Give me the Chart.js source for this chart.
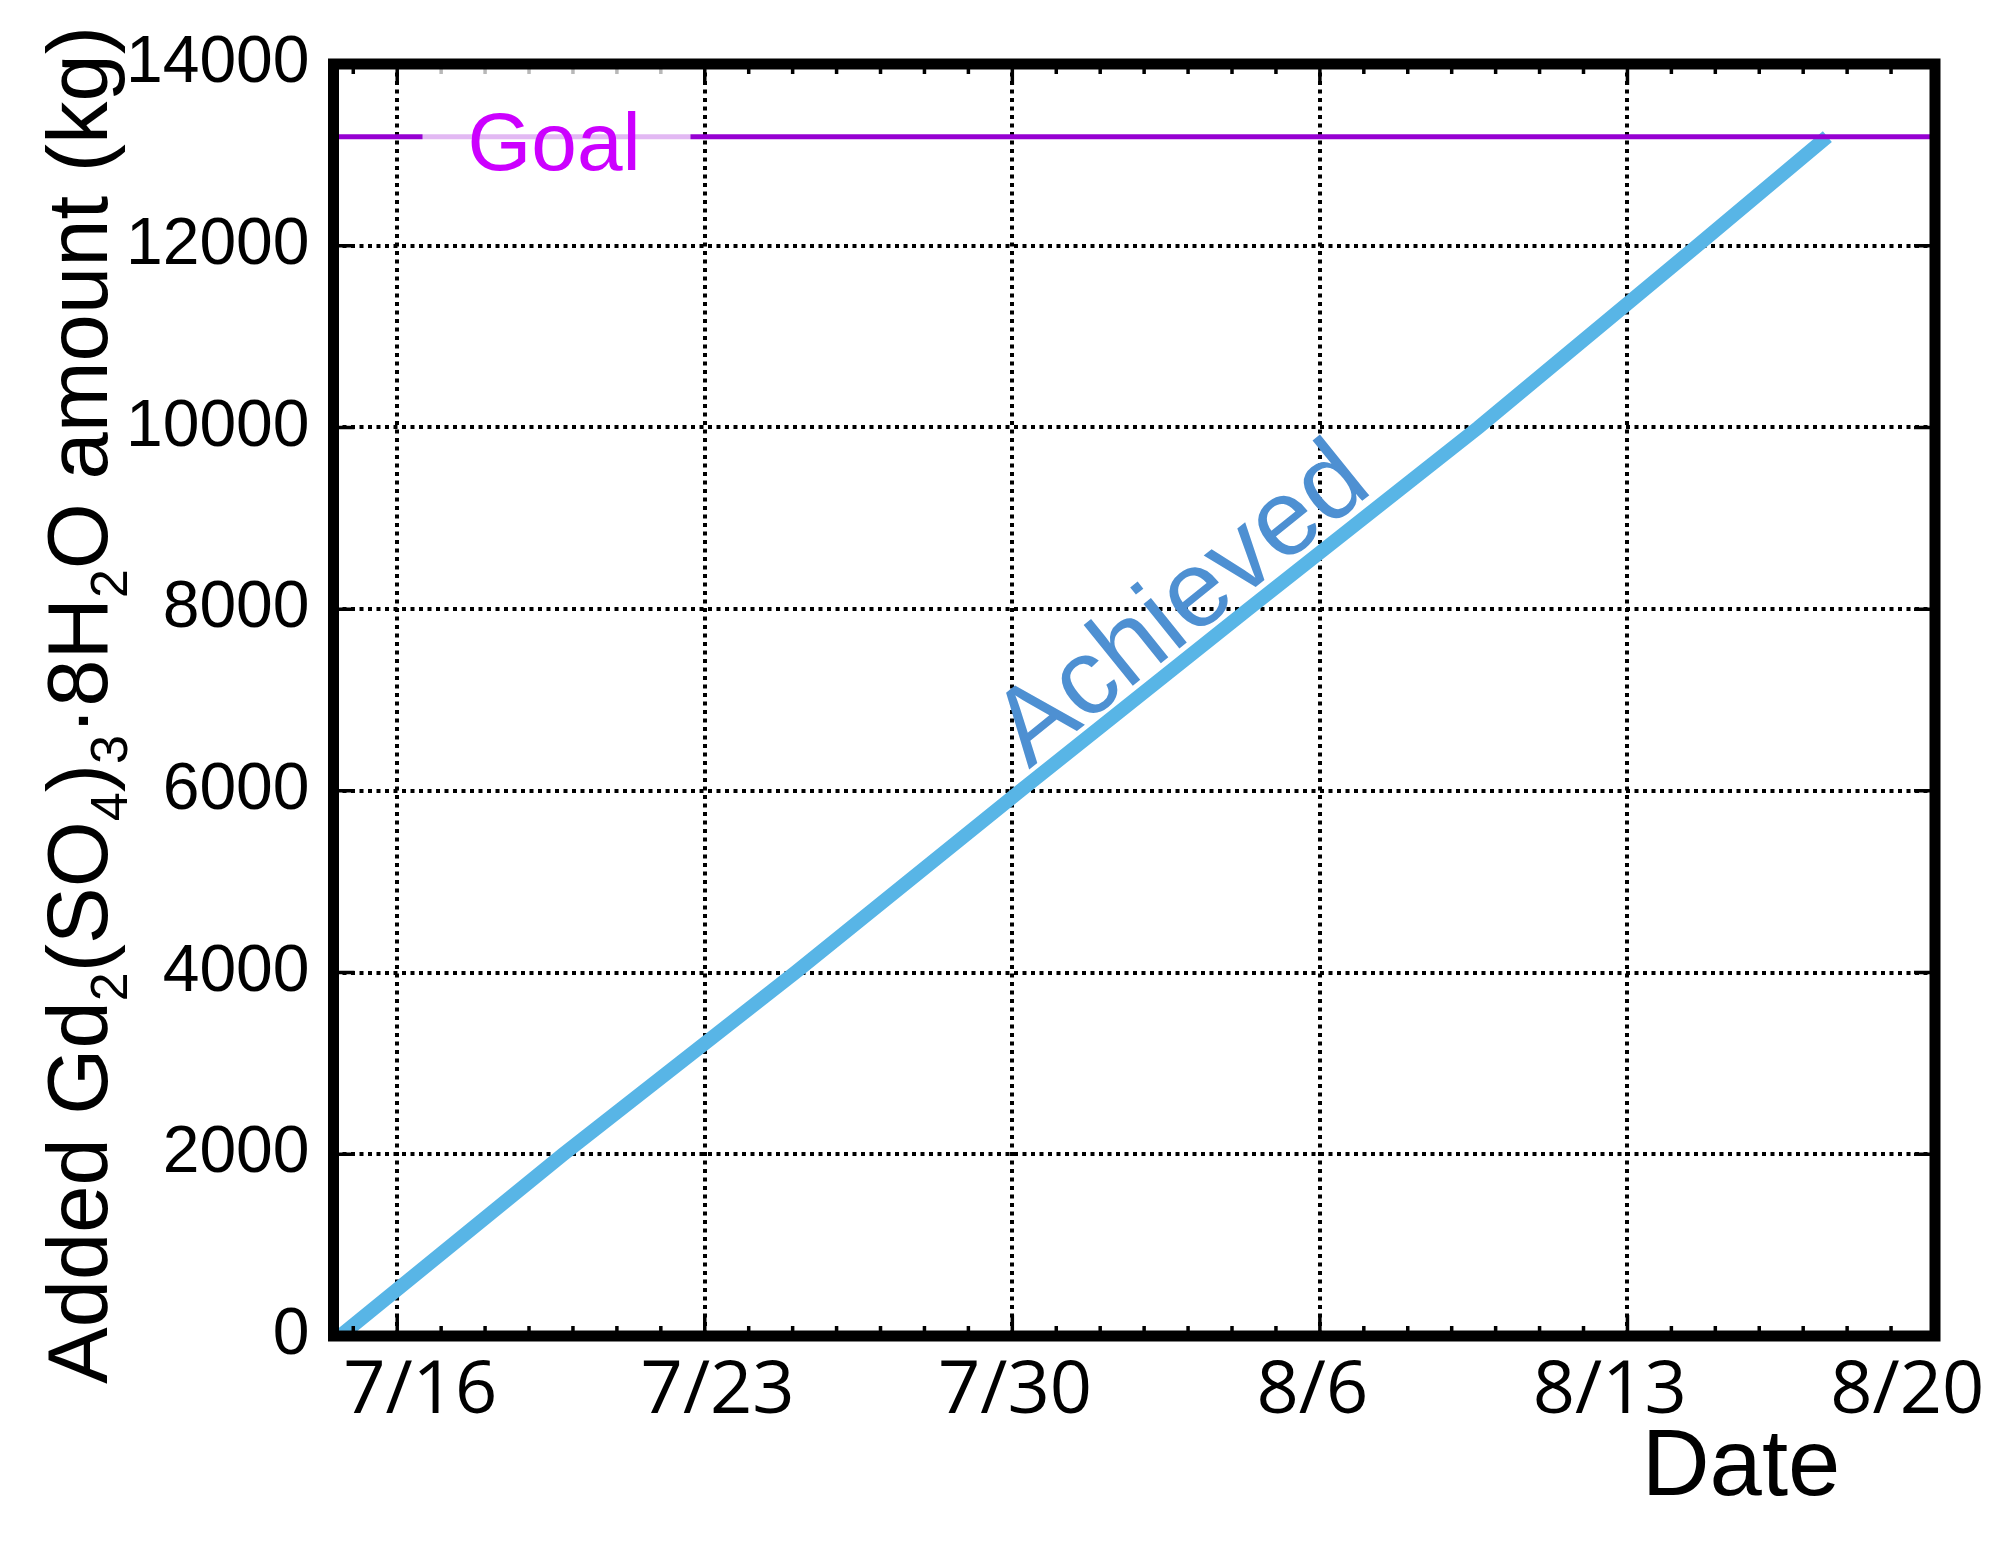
<!DOCTYPE html>
<html>
<head>
<meta charset="utf-8">
<script src="https://cdn.jsdelivr.net/npm/chart.js@4.4.1/dist/chart.umd.min.js"></script>
<style>
  html, body { margin: 0; padding: 0; background: #fff; }
  #wrap { width: 2000px; height: 1544px; position: relative; }
</style>
</head>
<body>
<div id="wrap"><canvas id="grafico"></canvas></div>
<script>
// --- data (x = day of July, 32 = Aug 1) ---
var achievedDays = [14.70, 19.78, 25.06, 30.18, 35.37, 40.61, 45.59, 48.55];
var achievedKg   = [0, 2000, 4000, 6000, 8000, 10000, 12000, 13200];
var goalKg = 13200;

var xTickDays   = [16, 23, 30, 37, 44, 51];
var xTickLabels = ['7/16', '7/23', '7/30', '8/6', '8/13', '8/20'];
var yTicks      = [0, 2000, 4000, 6000, 8000, 10000, 12000, 14000];
var xMin = 14.55, xMax = 51;

var SANS = '"Liberation Sans", Arial, sans-serif';
var C_ACH  = '#58B5E6';
var C_ACHT = '#4E90D2';
var C_GOAL = '#9600D2';
var C_GOALT = '#CC00FF';

// one minor tick per day
var xDayTicks = [];
for (var d = Math.ceil(xMin); d <= xMax; d++) xDayTicks.push(d);

var decor = {
  id: 'decor',
  afterDatasetsDraw: function (chart) {
    var ctx = chart.ctx, a = chart.chartArea;
    var xs = chart.scales.x, ys = chart.scales.y;
    ctx.save();

    // inward tick marks on all four sides
    ctx.strokeStyle = '#000';
    ctx.lineWidth = 3.5;
    ctx.beginPath();
    xs.ticks.forEach(function (t) {
      var px = xs.getPixelForValue(t.value);
      var len = xTickDays.indexOf(t.value) >= 0 ? 21 : 10;
      ctx.moveTo(px, a.bottom); ctx.lineTo(px, a.bottom - len);
      ctx.moveTo(px, a.top); ctx.lineTo(px, a.top + len);
    });
    ys.ticks.forEach(function (t) {
      var py = ys.getPixelForValue(t.value);
      ctx.moveTo(a.left, py); ctx.lineTo(a.left + 21, py);
      ctx.moveTo(a.right, py); ctx.lineTo(a.right - 21, py);
    });
    ctx.stroke();

    // Goal label on a faded box
    var gy = ys.getPixelForValue(goalKg);
    ctx.fillStyle = 'rgba(255,255,255,0.72)';
    ctx.fillRect(a.left + 89, a.top, 268, 120);
    ctx.fillStyle = C_GOALT;
    ctx.font = '82px ' + SANS;
    ctx.textAlign = 'left';
    ctx.textBaseline = 'alphabetic';
    ctx.fillText('Goal', a.left + 134, gy + 33);

    // Achieved label along the line
    var n = achievedDays.length;
    var x0 = xs.getPixelForValue(achievedDays[0]), y0 = ys.getPixelForValue(achievedKg[0]);
    var x1 = xs.getPixelForValue(achievedDays[n - 1]), y1 = ys.getPixelForValue(achievedKg[n - 1]);
    var ang = Math.atan2(y1 - y0, x1 - x0);
    var ax = xs.getPixelForValue(achievedDays[3]), ay = ys.getPixelForValue(achievedKg[3]);
    ctx.translate(ax, ay);
    ctx.rotate(ang);
    ctx.fillStyle = C_ACHT;
    ctx.font = '108px ' + SANS;
    ctx.fillText('Achieved', 20, -11);
    ctx.setTransform(1, 0, 0, 1, 0, 0);

    // frame
    ctx.lineWidth = 11;
    ctx.strokeStyle = '#000';
    ctx.strokeRect(a.left, a.top, a.right - a.left, a.bottom - a.top);
    ctx.restore();
  },
  afterDraw: function (chart) {
    var ctx = chart.ctx, a = chart.chartArea, xs = chart.scales.x;
    ctx.save();

    // x tick labels (placed a little tighter than the grid, as in the original)
    ctx.fillStyle = '#000';
    ctx.font = '74px "Open Sans", sans-serif';
    ctx.textAlign = 'center';
    ctx.textBaseline = 'alphabetic';
    var first = xs.getPixelForValue(xTickDays[0]);
    xTickDays.forEach(function (v, i) {
      var px = xs.getPixelForValue(v);
      ctx.fillText(xTickLabels[i], first + 23 + (px - first) * 0.967, a.bottom + 77);
    });

    // y title with subscripts
    var parts = [['Added Gd', 0], ['2', 1], ['(SO', 0], ['4', 1], [')', 0], ['3', 1],
                 ['\u00B78H', 0], ['2', 1], ['O amount (kg)', 0]];
    var fMain = '85px ' + SANS, fSub = '52px ' + SANS;
    var total = 0;
    parts.forEach(function (p) {
      ctx.font = p[1] ? fSub : fMain;
      total += ctx.measureText(p[0]).width;
    });
    ctx.translate(107, 705);
    ctx.rotate(-Math.PI / 2);
    ctx.textAlign = 'left';
    var cx = -total / 2;
    parts.forEach(function (p) {
      ctx.font = p[1] ? fSub : fMain;
      ctx.fillText(p[0], cx, p[1] ? 20 : 0);
      cx += ctx.measureText(p[0]).width;
    });
    ctx.setTransform(1, 0, 0, 1, 0, 0);

    // x title
    ctx.font = '94px ' + SANS;
    ctx.textAlign = 'center';
    ctx.fillText('Date', 1741, 1495);
    ctx.restore();
  }
};

new Chart(document.getElementById('grafico'), {
  type: 'line',
  data: {
    datasets: [{
      label: 'Goal',
      data: [{ x: xMin, y: goalKg }, { x: xMax, y: goalKg }],
      borderColor: C_GOAL,
      borderWidth: 5,
      pointRadius: 0
    }, {
      label: 'Achieved',
      data: achievedDays.map(function (d, i) { return { x: d, y: achievedKg[i] }; }),
      borderColor: C_ACH,
      borderWidth: 14,
      borderCapStyle: 'butt',
      pointRadius: 0,
      tension: 0
    }]
  },
  options: {
    responsive: true,
    maintainAspectRatio: false,
    animation: false,
    layout: { padding: { left: 0, right: 65, top: 64, bottom: 0 } },
    plugins: { legend: { display: false }, tooltip: { enabled: false } },
    scales: {
      x: {
        type: 'linear',
        min: xMin,
        max: xMax,
        afterBuildTicks: function (ax) {
          ax.ticks = xDayTicks.map(function (v) { return { value: v }; });
        },
        afterFit: function (ax) { ax.height = 208; ax.paddingLeft = 0; ax.paddingRight = 0; },
        grid: {
          drawTicks: false,
          lineWidth: 4,
          color: function (c) {
            return (c.tick && xTickDays.indexOf(c.tick.value) >= 0) ? '#000' : 'rgba(0,0,0,0)';
          }
        },
        border: { display: false, dash: [4, 4.5] },
        ticks: { display: false }
      },
      y: {
        min: 0,
        max: 14000,
        afterBuildTicks: function (ax) {
          ax.ticks = yTicks.map(function (v) { return { value: v }; });
        },
        afterFit: function (ax) { ax.width = 333.5; ax.paddingTop = 0; ax.paddingBottom = 0; },
        grid: { drawTicks: false, lineWidth: 4, color: '#000' },
        border: { display: false, dash: [4, 4.5] },
        ticks: {
          padding: 24,
          color: '#000',
          font: { family: SANS, size: 66 },
          callback: function (v) { return String(v); }
        }
      }
    }
  },
  plugins: [decor]
});
</script>
</body>
</html>
